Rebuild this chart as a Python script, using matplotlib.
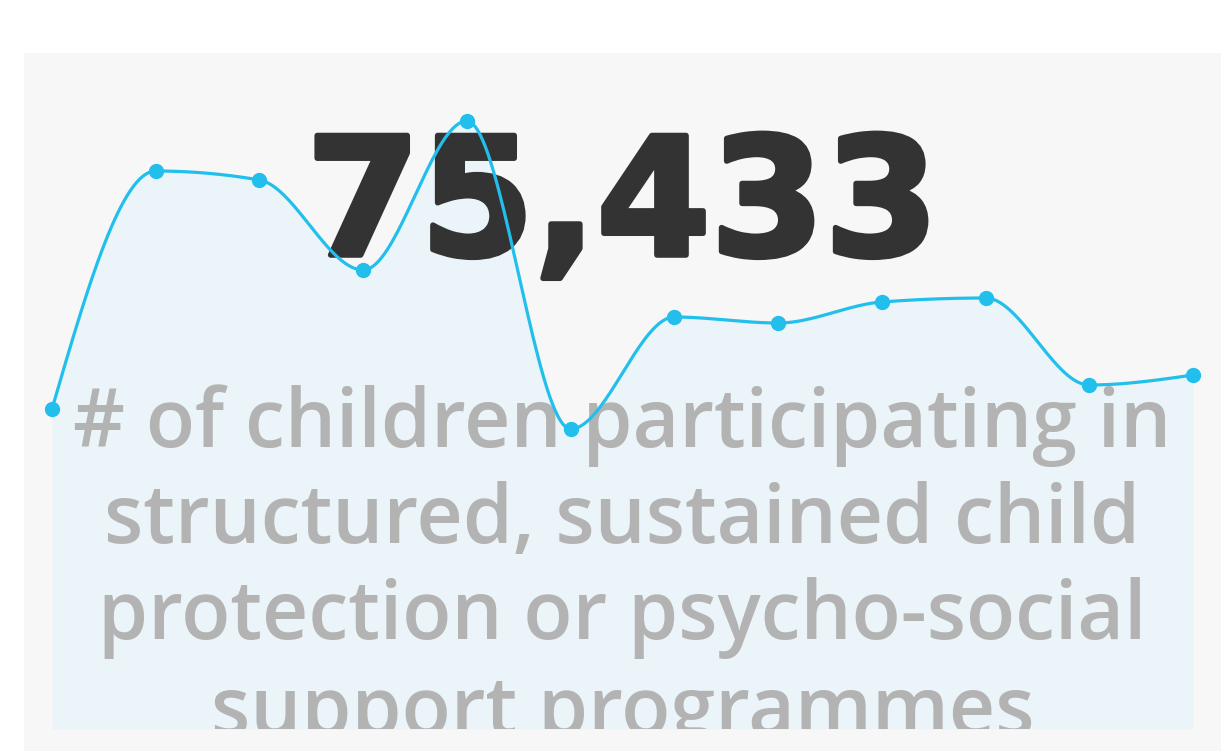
import numpy as np
import matplotlib
matplotlib.use('Agg')
import matplotlib.pyplot as plt
import matplotlib.patheffects as pe

# monthly counts (arbitrary units)
months = list(range(12))
values = [320, 558, 549, 459, 608, 300, 412, 406, 427, 431, 344, 354]
big_number = '75,433'
caption = ('# of children participating in\n'
           'structured, sustained child\n'
           'protection or psycho-social\n'
           'support programmes')

LINE = '#23bfec'
FILL = '#ebf4f8'
PANEL = '#f7f7f7'


def monotone_x(x, y, n=40):
    # same curve as d3.curveMonotoneX
    x = np.asarray(x, float)
    y = np.asarray(y, float)
    h = np.diff(x)
    s = np.diff(y) / h
    t = np.zeros(len(x))
    for i in range(1, len(x) - 1):
        p = (s[i - 1] * h[i] + s[i] * h[i - 1]) / (h[i - 1] + h[i])
        t[i] = (np.sign(s[i - 1]) + np.sign(s[i])) * min(abs(s[i - 1]), abs(s[i]), 0.5 * abs(p))
    t[0] = (3 * s[0] - t[1]) / 2
    t[-1] = (3 * s[-1] - t[-2]) / 2
    xs, ys = [], []
    for i in range(len(x) - 1):
        u = np.linspace(0, 1, n)
        h00 = 2 * u**3 - 3 * u**2 + 1
        h10 = u**3 - 2 * u**2 + u
        h01 = -2 * u**3 + 3 * u**2
        h11 = u**3 - u**2
        xs.append(x[i] + u * h[i])
        ys.append(h00 * y[i] + h10 * h[i] * t[i] + h01 * y[i + 1] + h11 * h[i] * t[i + 1])
    return np.concatenate(xs), np.concatenate(ys)


W, H = 1229, 751
fig = plt.figure(figsize=(W / 100, H / 100), dpi=100)
fig.patch.set_facecolor('white')

# grey card behind the chart
bg = fig.add_axes([24 / W, 0, (1221 - 24) / W, (751 - 53) / H])
bg.set_facecolor(PANEL)
bg.set_xticks([])
bg.set_yticks([])
for sp in bg.spines.values():
    sp.set_visible(False)

ax = fig.add_axes([52 / W, (751 - 729) / H, (1193 - 52) / W, 676 / H])
ax.set_facecolor('none')
ax.set_xlim(0, 11)
ax.set_ylim(0, 676)
ax.axis('off')

cx, cy = monotone_x(months, values)
ax.fill_between(cx, 0, cy, color=FILL, zorder=1, linewidth=0)

# caption runs past the bottom of the chart and gets cut off there
ax.text(0.5, (729 - 384) / 676, caption, transform=ax.transAxes,
        ha='center', va='top', multialignment='center',
        fontsize=58, color='#b3b3b3', family='Open Sans', weight='semibold',
        linespacing=1.23, zorder=2, clip_on=True)

ax.text(0.5, (729 - 255) / 676, big_number, transform=ax.transAxes,
        ha='center', va='baseline', fontsize=118, color='#333333',
        family='DejaVu Sans', weight='bold', zorder=3,
        path_effects=[pe.withStroke(linewidth=4, foreground='#333333')])

ax.plot(cx, cy, color=LINE, linewidth=2.3, zorder=4, clip_on=False,
        solid_capstyle='round')
ax.plot(months, values, 'o', color=LINE, markersize=10, zorder=5, clip_on=False)

fig.savefig('out.png', dpi=100)
